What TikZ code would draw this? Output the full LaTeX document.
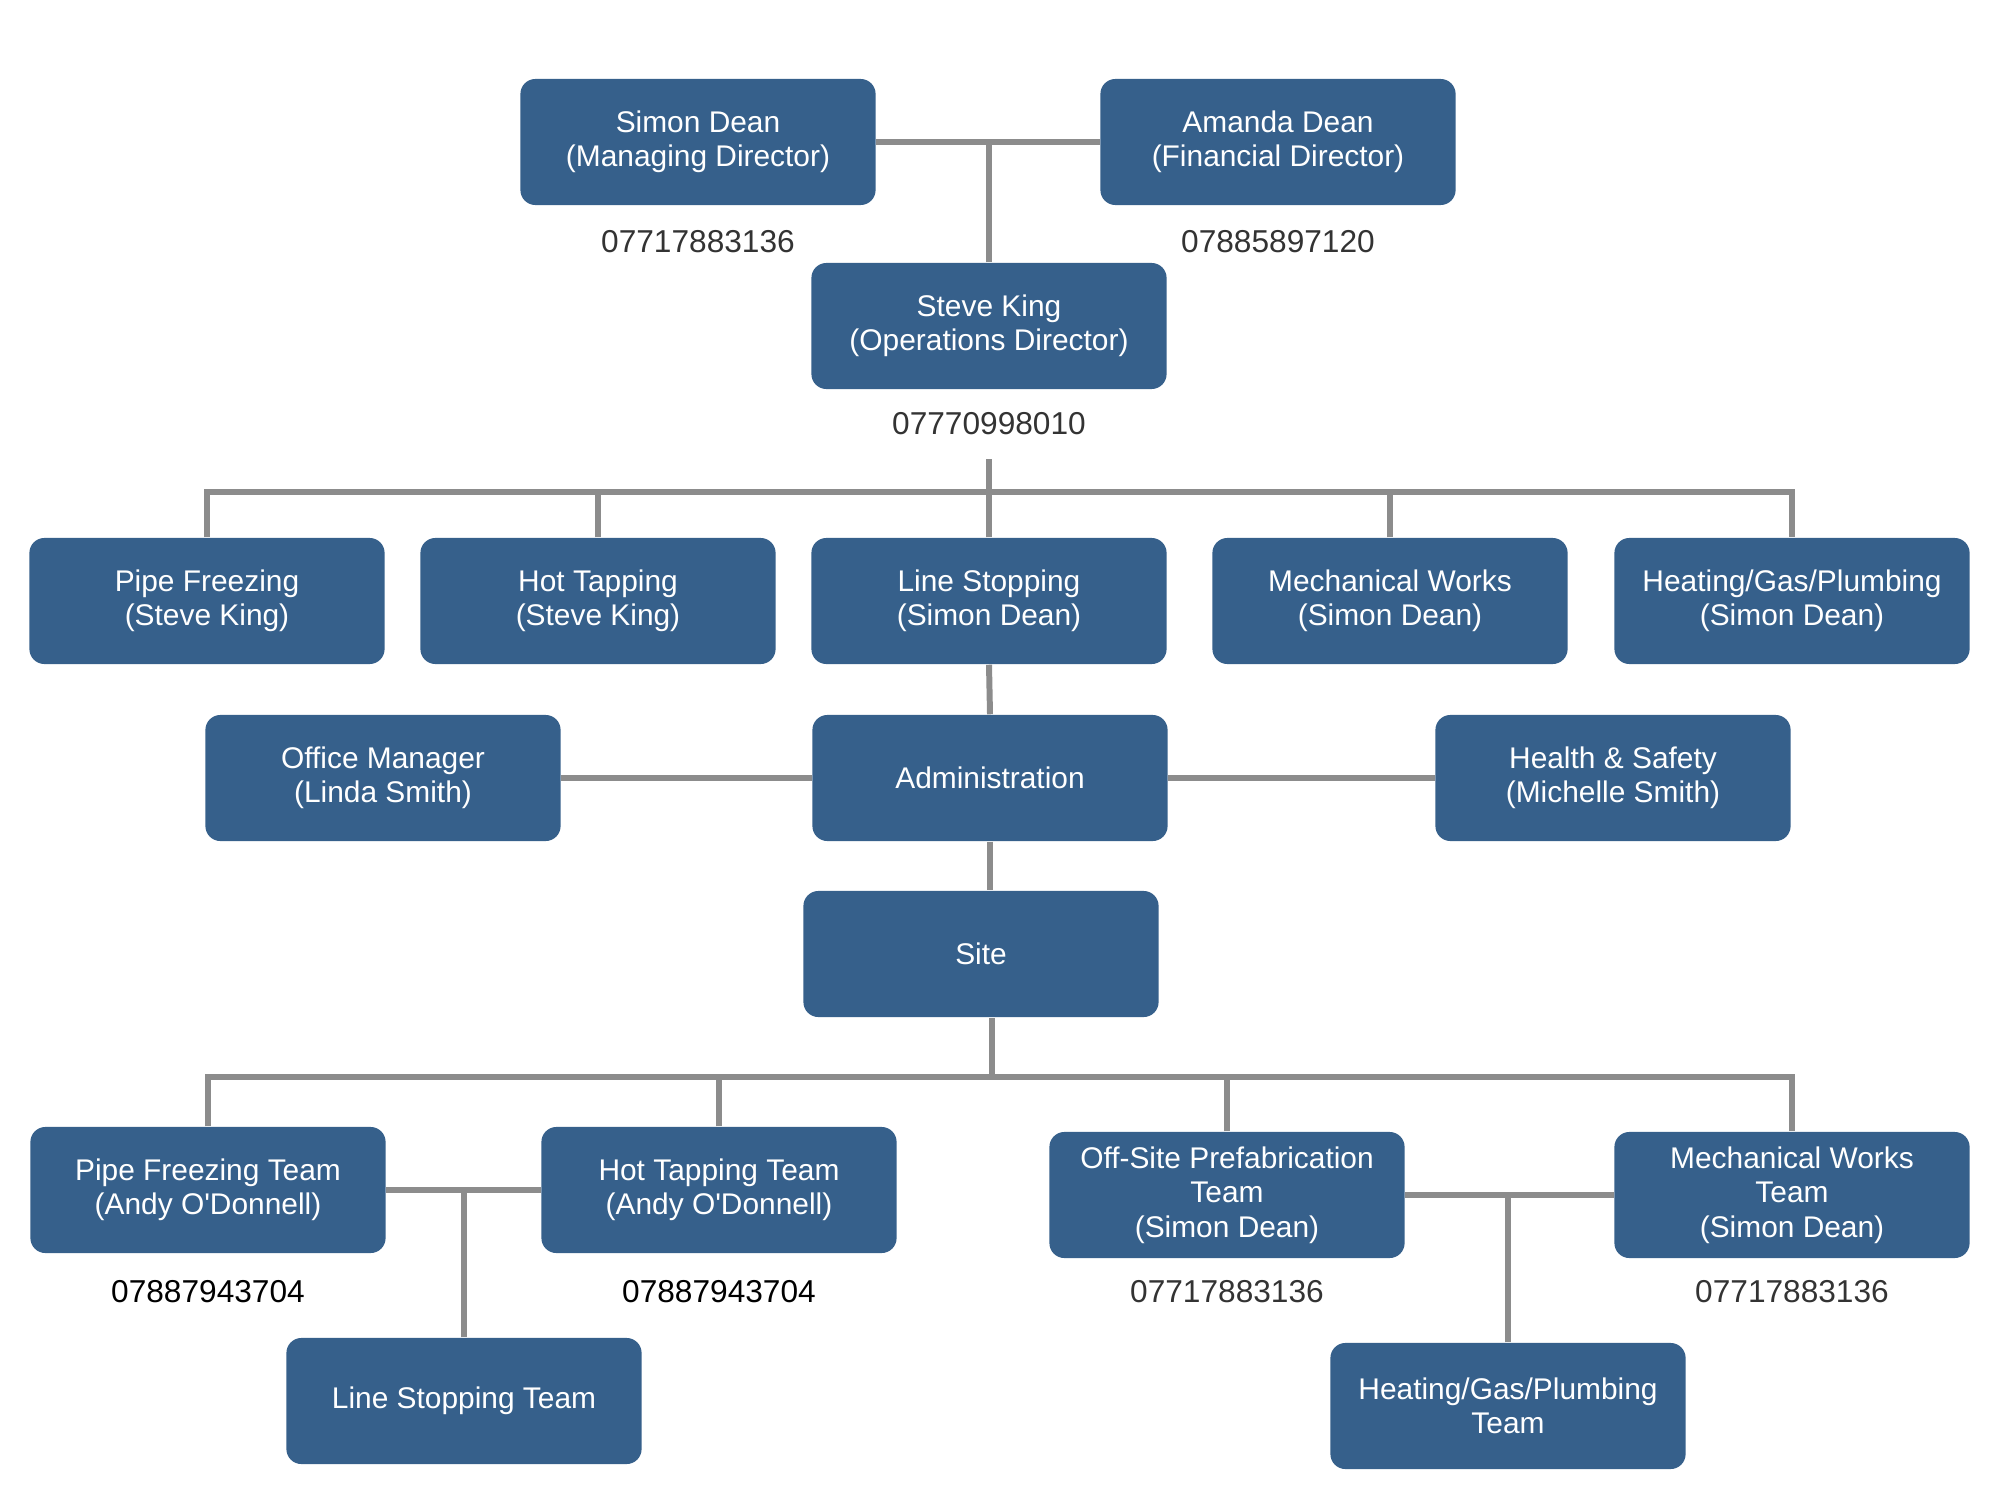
\documentclass[tikz,border=0pt]{standalone}
\usepackage{fontspec}
\setmainfont{Liberation Sans}[Ligatures=TeXOff]
\usepackage{tikz}
\definecolor{boxblue}{RGB}{54,96,139}
\definecolor{linegray}{RGB}{140,140,140}
\definecolor{phonegray}{RGB}{51,51,51}

\begin{document}
\begin{tikzpicture}[x=0.01cm,y=-0.01cm,
  post/.style={rectangle,rounded corners=0.15cm,fill=boxblue,text=white,
    minimum width=3.55cm,minimum height=1.26cm,inner sep=0pt,align=center,
    font=\fontsize{8.5}{9.8}\selectfont},
  phone/.style={text=phonegray,inner sep=0pt,font=\fontsize{9}{10.8}\selectfont},
  link/.style={draw=linegray,line width=1.7pt}]
\useasboundingbox (0,0) rectangle (2000,1500);
% directors
\node[post] (sd) at (698,142) {Simon Dean\\(Managing Director)};
\node[phone] (sdtel) at (698,242) {07717883136};
\node[post] (ad) at (1278,142) {Amanda Dean\\(Financial Director)};
\node[phone] (adtel) at (1278,242) {07885897120};
\node[post] (sk) at (989,326) {Steve King\\(Operations Director)};
\node[phone] (sktel) at (989,424) {07770998010};
% departments
\node[post] (pf) at (207,601) {Pipe Freezing\\(Steve King)};
\node[post] (ht) at (598,601) {Hot Tapping\\(Steve King)};
\node[post] (ls) at (989,601) {Line Stopping\\(Simon Dean)};
\node[post] (mw) at (1390,601) {Mechanical Works\\(Simon Dean)};
\node[post] (hg) at (1792,601) {Heating/Gas/Plumbing\\(Simon Dean)};
% office
\node[post] (om) at (383,778) {Office Manager\\(Linda Smith)};
\node[post] (adm) at (990,778) {Administration};
\node[post] (hs) at (1613,778) {Health \& Safety\\(Michelle Smith)};
\node[post] (site) at (981,954) {Site};
% teams
\node[post] (pft) at (208,1190) {Pipe Freezing Team\\(Andy O'Donnell)};
\node[phone,text=black] (pfttel) at (208,1292) {07887943704};
\node[post] (htt) at (719,1190) {Hot Tapping Team\\(Andy O'Donnell)};
\node[phone,text=black] (htttel) at (719,1292) {07887943704};
\node[post] (lst) at (464,1401) {Line Stopping Team};
\node[post] (ospt) at (1227,1195) {Off-Site Prefabrication\\Team\\(Simon Dean)};
\node[phone] (taltel) at (1227,1292) {07717883136};
\node[post] (mwt) at (1792,1195) {Mechanical Works\\Team\\(Simon Dean)};
\node[phone] (mwttel) at (1792,1292) {07717883136};
\node[post] (hgpt) at (1508,1406) {Heating/Gas/Plumbing\\Team};
% lines
\coordinate (stem) at (989,459);
\coordinate (bus) at (989,492);
\coordinate (sitebus) at (992,1077);
\draw[link] (sd.east) -- (ad.west);
\draw[link] (sk.north) -- (sk.north |- sd.east);
\draw[link] (stem) -- (bus);
\draw[link] (pf.north) -- (pf.north |- bus) -- (hg.north |- bus) -- (hg.north);
\foreach \n in {ht,ls,mw}
  \draw[link] (\n.north) -- (\n.north |- bus);
\draw[link] (ls.south) -- (adm.north);
\draw[link] (om.east) -- (adm.west);
\draw[link] (adm.east) -- (hs.west);
\draw[link] (adm.south) -- (adm.south |- site.north);
\draw[link] (site.south -| sitebus) -- (sitebus);
\draw[link] (pft.north) -- (pft.north |- sitebus) -- (mwt.north |- sitebus) -- (mwt.north);
\foreach \n in {htt,ospt}
  \draw[link] (\n.north) -- (\n.north |- sitebus);
\draw[link] (pft.east) -- (htt.west);
\draw[link] (lst.north) -- (lst.north |- pft.east);
\draw[link] (ospt.east) -- (mwt.west);
\draw[link] (hgpt.north) -- (hgpt.north |- ospt.east);
\end{tikzpicture}
\end{document}
